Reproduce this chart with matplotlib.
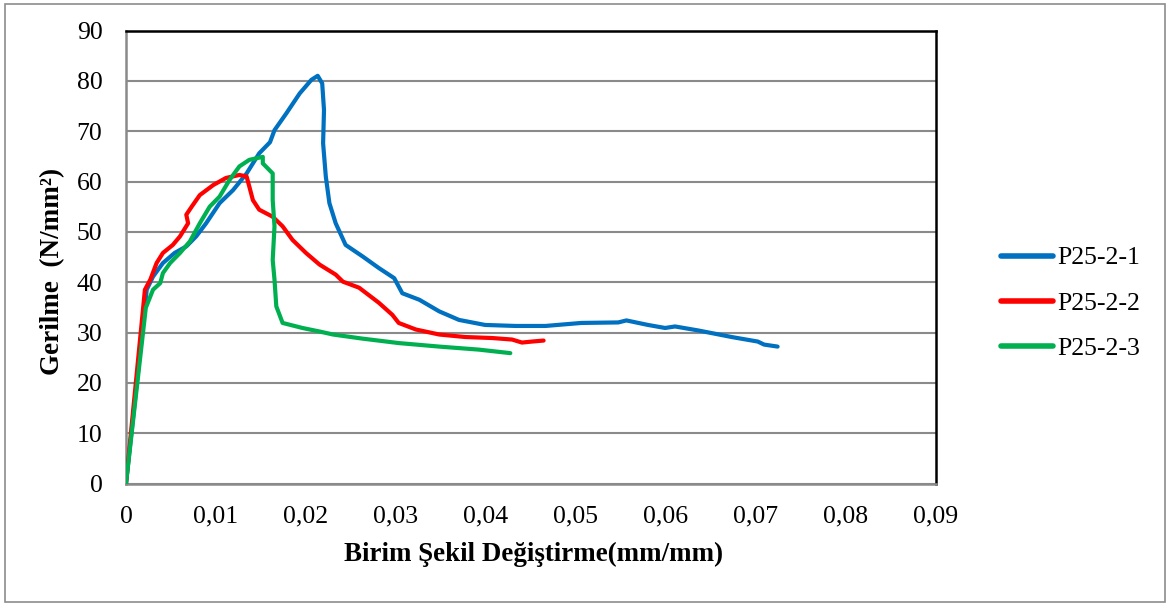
import matplotlib
matplotlib.use("Agg")
import matplotlib.pyplot as plt
from matplotlib.patches import Rectangle
from matplotlib.lines import Line2D

# Stress-strain readings for the three specimens
strain_1 = [0, 0.0021, 0.0023, 0.0030, 0.0041, 0.0054, 0.0067, 0.0078, 0.0089, 0.0104,
            0.0119, 0.0134, 0.0148, 0.0160, 0.0165, 0.0178, 0.0193, 0.0206, 0.0213, 0.0218,
            0.0220, 0.0219, 0.0222, 0.0226, 0.0233, 0.0244, 0.0263, 0.0281, 0.0298, 0.0307,
            0.0326, 0.0348, 0.0370, 0.0399, 0.0433, 0.0466, 0.0506, 0.0547, 0.0556, 0.0580,
            0.0599, 0.0610, 0.0636, 0.0673, 0.0702, 0.0709, 0.0724]
stress_1 = [0, 35.0, 38.5, 41.1, 43.8, 45.8, 47.1, 49.1, 51.7, 55.7,
            58.3, 61.6, 65.6, 67.8, 70.2, 73.5, 77.5, 80.2, 81.0, 79.5,
            74.2, 67.6, 61.0, 55.7, 51.7, 47.4, 45.1, 42.8, 40.8, 37.8,
            36.5, 34.2, 32.5, 31.5, 31.3, 31.3, 31.9, 32.0, 32.4, 31.5,
            30.9, 31.2, 30.4, 29.1, 28.2, 27.6, 27.2]

strain_2 = [0, 0.0021, 0.0027, 0.0034, 0.0041, 0.0052, 0.0060, 0.0069, 0.0067, 0.0073,
            0.0082, 0.0097, 0.0111, 0.0126, 0.0134, 0.0137, 0.0141, 0.0148, 0.0163, 0.0174,
            0.0185, 0.0200, 0.0215, 0.0233, 0.0241, 0.0259, 0.0281, 0.0296, 0.0303, 0.0322,
            0.0348, 0.0377, 0.0407, 0.0429, 0.0440, 0.0451, 0.0464]
stress_2 = [0, 38.5, 40.5, 43.8, 45.8, 47.4, 49.1, 51.7, 53.4, 55.0,
            57.3, 59.3, 60.7, 61.3, 61.0, 59.0, 56.3, 54.4, 53.0, 51.1,
            48.4, 45.8, 43.5, 41.5, 40.1, 38.9, 35.9, 33.5, 31.9, 30.6,
            29.6, 29.1, 28.9, 28.6, 28.0, 28.2, 28.4]

strain_3 = [0, 0.0022, 0.0030, 0.0038, 0.0041, 0.0049, 0.0060, 0.0071, 0.0082, 0.0093,
            0.0104, 0.0115, 0.0126, 0.0137, 0.0152, 0.0152, 0.0163, 0.0163, 0.0165, 0.0163,
            0.0165, 0.0167, 0.0174, 0.0196, 0.0215, 0.0230, 0.0262, 0.0303, 0.0348, 0.0392,
            0.0427]
stress_3 = [0, 34.9, 38.5, 39.8, 41.8, 43.8, 45.8, 48.1, 51.7, 55.0,
            57.0, 60.3, 63.0, 64.3, 64.9, 63.6, 61.6, 56.3, 51.1, 44.4,
            40.5, 35.2, 31.9, 30.9, 30.2, 29.6, 28.8, 27.9, 27.2, 26.6,
            25.9]

series_names = ["P25-2-1", "P25-2-2", "P25-2-3"]
series_colors = ["#0070C0", "#FF0000", "#00B050"]

x_ticks = [0, 0.01, 0.02, 0.03, 0.04, 0.05, 0.06, 0.07, 0.08, 0.09]
x_tick_labels = ["0", "0,01", "0,02", "0,03", "0,04", "0,05", "0,06", "0,07", "0,08", "0,09"]
y_ticks = [0, 10, 20, 30, 40, 50, 60, 70, 80, 90]

plt.rcParams["font.family"] = ["Liberation Serif", "DejaVu Serif"]

W, H = 1170, 605
fig = plt.figure(figsize=(W / 100, H / 100), dpi=100)
ax = fig.add_axes([126 / W, 1 - 483.5 / H, (936 - 126) / W, (483.5 - 30.5) / H])

# outer chart frame
fig.patches.append(Rectangle((5 / W, 3 / H), 1160 / W, 598 / H,
                             transform=fig.transFigure, fill=False,
                             edgecolor="#8c8c8c", linewidth=1.2))

for xs, ys, c, name in zip([strain_1, strain_2, strain_3],
                           [stress_1, stress_2, stress_3],
                           series_colors, series_names):
    ax.plot(xs, ys, color=c, linewidth=3.0, solid_capstyle="round",
            solid_joinstyle="round", label=name, zorder=3)

ax.set_xlim(0, 0.09)
ax.set_ylim(0, 90)
ax.set_xticks(x_ticks)
ax.set_xticklabels(x_tick_labels)
ax.set_yticks(y_ticks)
ax.tick_params(axis="both", length=0, labelsize=18.5)
ax.tick_params(axis="x", pad=16)
ax.tick_params(axis="y", pad=17)

ax.yaxis.grid(True, color="#8a8a8a", linewidth=1.5, zorder=1)
ax.set_axisbelow(True)

for side in ["left", "bottom"]:
    ax.spines[side].set_color("#8a8a8a")
    ax.spines[side].set_linewidth(1.8)
for side in ["top", "right"]:
    ax.spines[side].set_color("#000000")
    ax.spines[side].set_linewidth(1.8)

fig.text(534 / W, 1 - 554 / H, "Birim Şekil Değiştirme(mm/mm)",
         ha="center", va="center", fontsize=19.4, fontweight="bold")
fig.text(53 / W, 1 - 271 / H, "Gerilme  (N/mm²)", rotation=90,
         ha="center", va="center", fontsize=19.5, fontweight="bold")

# legend entries to the right of the plot
legend_rows = [256, 301, 346]
for c, name, row in zip(series_colors, series_names, legend_rows):
    fig.add_artist(Line2D([1001 / W, 1053 / W], [1 - row / H, 1 - row / H],
                          transform=fig.transFigure, color=c, linewidth=4.0,
                          solid_capstyle="round"))
    fig.text(1057 / W, 1 - row / H, name, ha="left", va="center_baseline",
             fontsize=18.5)

fig.savefig("out.png", dpi=100)
